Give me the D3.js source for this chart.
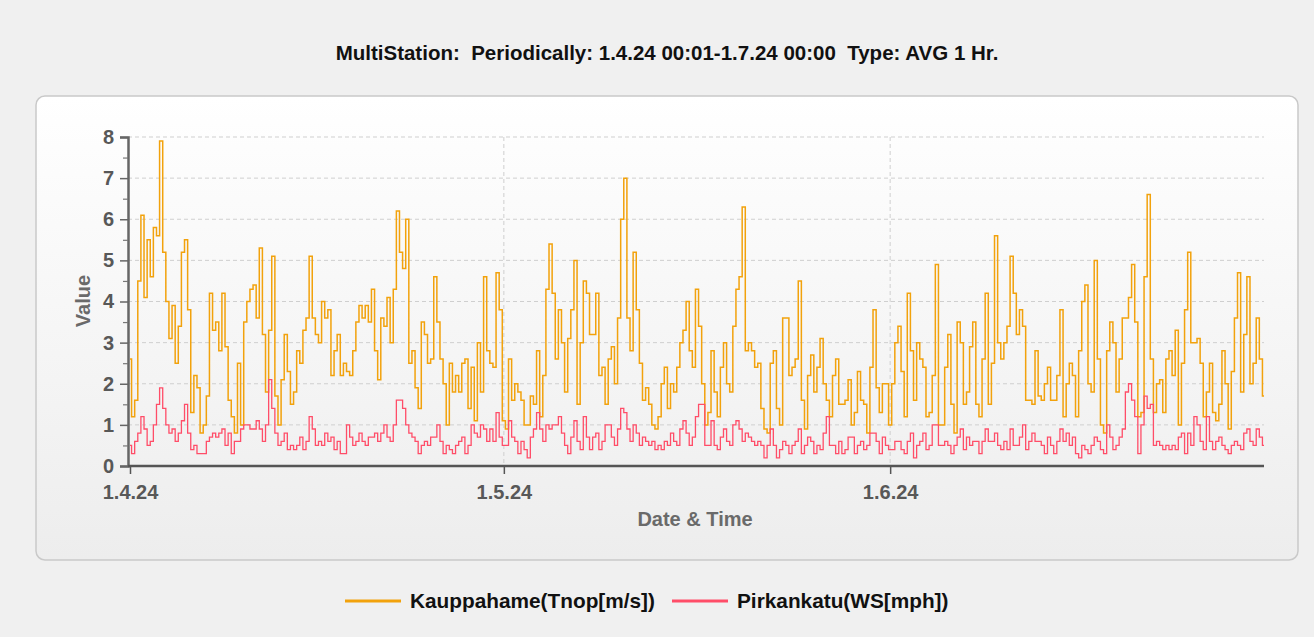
<!DOCTYPE html>
<html>
<head>
<meta charset="utf-8">
<script src="https://cdn.jsdelivr.net/npm/d3@7"></script>
<style>
  html, body { margin: 0; padding: 0; background: #f0f0f0; }
  svg { display: block; font-family: "Liberation Sans", Arial, sans-serif; }
</style>
</head>
<body>
<svg id="chart" width="1314" height="637"></svg>
<script>
// hourly averages, every 6 hours from 1.4.24 00:00
const startDate = Date.UTC(2024, 3, 1);
const stepHours = 6;

const kauppahame = [
  2.6, 1.2, 1.6, 4.5,  6.1, 4.1, 5.5, 4.6,  5.8, 5.6, 7.9, 5.2,  4.0, 3.1, 3.9, 2.5,
  3.4, 5.2, 5.5, 3.8,  1.3, 2.2, 1.9, 0.8,  1.0, 1.7, 4.2, 3.3,  3.5, 2.8, 4.2, 2.9,
  1.6, 1.2, 0.8, 2.5,  1.0, 3.5, 4.0, 4.3,  4.4, 3.6, 5.3, 3.2,  1.8, 3.3, 5.1, 1.7,
  1.0, 2.1, 3.2, 2.3,  1.5, 1.8, 2.8, 2.5,  3.3, 3.6, 5.1, 3.6,  3.2, 3.0, 4.0, 3.6,
  3.8, 2.2, 2.8, 3.2,  2.2, 2.5, 2.3, 2.2,  2.8, 3.5, 3.9, 3.6,  3.9, 3.5, 4.3, 2.8,
  2.1, 3.6, 3.4, 4.1,  3.0, 4.3, 6.2, 5.2,  4.8, 6.0, 2.5, 2.8,  1.9, 1.4, 3.5, 3.2,
  2.5, 2.6, 4.6, 3.5,  2.6, 2.0, 1.0, 2.5,  1.8, 2.2, 1.8, 2.5,  2.6, 1.4, 2.4, 1.1,
  3.0, 1.8, 4.6, 2.8,  2.5, 2.4, 4.7, 3.8,  1.1, 0.9, 2.6, 1.6,  2.0, 1.8, 1.6, 1.0,
  1.0, 1.7, 1.5, 2.8,  1.2, 2.2, 4.3, 5.4,  4.2, 2.6, 3.8, 3.0,  1.8, 3.1, 3.8, 5.0,
  1.5, 3.0, 4.5, 4.2,  3.2, 3.2, 4.2, 2.2,  2.4, 1.5, 2.6, 2.9,  2.0, 3.6, 6.0, 7.0,
  3.6, 2.8, 5.2, 3.8,  2.5, 1.6, 1.9, 1.5,  1.0, 0.9, 1.2, 2.0,  2.4, 1.4, 2.0, 1.8,
  2.4, 3.0, 3.3, 4.0,  2.8, 2.4, 4.3, 3.4,  2.0, 1.0, 1.3, 2.8,  1.8, 1.2, 2.4, 3.0,
  2.0, 1.8, 3.4, 4.3,  4.6, 6.3, 2.8, 3.0,  2.8, 2.4, 2.5, 1.4,  0.9, 0.8, 2.5, 2.8,
  1.4, 1.0, 3.6, 3.6,  2.2, 2.4, 2.6, 4.5,  1.6, 0.9, 2.2, 2.7,  1.8, 2.4, 3.1, 2.0,
  1.6, 1.2, 2.2, 2.6,  1.5, 1.5, 1.6, 2.1,  1.0, 1.3, 2.3, 1.6,  1.5, 0.8, 2.4, 3.8,
  1.9, 1.3, 2.0, 2.0,  1.0, 2.0, 3.0, 3.4,  2.3, 1.2, 4.2, 2.8,  1.6, 3.0, 2.6, 2.4,
  1.2, 1.3, 2.2, 4.9,  1.0, 1.0, 2.4, 3.2,  1.5, 0.8, 3.5, 3.0,  1.5, 1.8, 2.9, 3.5,
  1.5, 1.2, 2.6, 4.2,  1.5, 2.5, 5.6, 3.0,  2.6, 3.0, 3.4, 5.1,  4.2, 3.2, 3.8, 3.4,
  1.6, 1.6, 1.5, 2.8,  1.7, 1.6, 2.0, 2.4,  1.6, 1.6, 2.2, 3.8,  1.2, 2.0, 2.5, 2.2,
  1.2, 2.8, 4.0, 4.4,  2.0, 1.8, 5.0, 2.6,  1.0, 0.8, 2.8, 3.5,  3.0, 1.8, 2.6, 3.6,
  3.6, 4.1, 4.9, 3.5,  1.2, 1.3, 4.6, 6.6,  2.6, 1.3, 2.0, 2.1,  1.3, 2.6, 2.8, 2.2,
  3.3, 1.0, 2.5, 3.8,  5.2, 3.0, 3.0, 3.1,  2.5, 1.2, 1.8, 2.5,  1.3, 1.1, 1.5, 2.8,
  2.0, 0.9, 2.3, 3.6,  4.7, 1.8, 3.2, 4.6,  2.0, 2.5, 3.6, 2.6,  1.7
];

const pirkankatu = [
  0.5, 0.3, 0.6, 0.8,  1.2, 0.9, 0.5, 0.6,  1.0, 1.5, 1.9, 1.4,  1.0, 0.8, 0.9, 0.6,
  0.8, 1.1, 1.5, 0.8,  0.4, 0.5, 0.3, 0.3,  0.3, 0.6, 0.7, 0.8,  0.7, 0.8, 0.9, 0.5,
  0.8, 0.3, 0.6, 0.6,  0.9, 1.0, 1.0, 0.9,  0.9, 1.1, 0.9, 0.6,  1.0, 2.1, 1.4, 0.8,
  0.5, 0.6, 0.8, 0.4,  0.5, 0.4, 0.5, 0.7,  0.4, 0.6, 1.2, 0.9,  0.5, 0.6, 0.5, 0.8,
  0.6, 0.7, 0.4, 0.6,  0.3, 0.3, 1.0, 0.7,  0.5, 0.6, 0.8, 0.6,  0.5, 0.7, 0.7, 0.8,
  0.6, 0.8, 1.0, 0.7,  0.6, 1.0, 1.6, 1.6,  1.4, 1.0, 0.8, 0.7,  0.6, 0.3, 0.5, 0.6,
  0.5, 0.7, 0.7, 1.0,  0.6, 0.3, 0.5, 0.4,  0.3, 0.5, 0.6, 0.7,  0.3, 0.5, 1.0, 0.8,
  0.7, 1.0, 0.9, 0.6,  0.9, 0.6, 1.3, 0.7,  0.5, 0.5, 1.1, 0.7,  0.6, 0.3, 0.6, 0.4,
  0.2, 0.7, 0.9, 1.3,  0.9, 0.6, 1.0, 0.9,  1.0, 1.0, 1.2, 0.8,  0.5, 0.3, 0.7, 1.1,
  0.6, 0.4, 1.2, 0.7,  0.4, 0.7, 0.8, 0.4,  0.6, 1.0, 1.0, 0.7,  0.5, 0.9, 1.4, 1.3,
  0.9, 0.6, 1.0, 0.8,  0.5, 0.7, 0.6, 0.5,  0.6, 0.4, 0.5, 0.4,  0.6, 0.5, 0.8, 0.6,
  0.5, 0.9, 1.1, 0.8,  0.5, 0.7, 1.2, 1.5,  1.5, 0.5, 0.5, 1.1,  0.5, 0.4, 0.7, 0.9,
  0.6, 0.5, 1.0, 1.1,  0.9, 0.6, 0.8, 0.7,  0.6, 0.5, 0.6, 0.5,  0.2, 0.5, 0.9, 0.5,
  0.2, 0.4, 0.6, 0.5,  0.3, 0.5, 0.6, 0.9,  0.3, 0.5, 0.7, 0.6,  0.3, 0.5, 0.4, 0.8,
  1.2, 0.5, 0.5, 0.3,  0.6, 0.3, 0.4, 0.7,  0.7, 0.3, 0.5, 0.6,  0.4, 0.5, 0.8, 0.8,
  0.6, 0.3, 0.7, 0.5,  0.4, 0.4, 0.6, 0.6,  0.4, 0.3, 0.6, 0.8,  0.2, 0.5, 0.6, 0.8,
  0.4, 0.5, 1.0, 1.0,  0.5, 0.5, 0.6, 0.5,  0.3, 0.5, 0.7, 0.9,  0.4, 0.7, 0.5, 0.6,
  0.6, 0.3, 0.6, 0.9,  0.6, 0.6, 0.8, 0.5,  0.4, 0.6, 0.4, 0.9,  0.5, 0.5, 0.7, 1.0,
  0.4, 0.6, 0.8, 0.6,  0.6, 0.5, 0.3, 0.7,  0.5, 0.3, 0.6, 0.9,  0.6, 0.8, 0.5, 0.7,
  0.3, 0.2, 0.5, 0.4,  0.3, 0.5, 0.7, 0.6,  0.4, 0.3, 1.0, 0.7,  0.4, 0.5, 0.7, 0.9,
  1.8, 2.0, 1.6, 1.2,  0.3, 1.0, 1.7, 1.4,  1.5, 0.5, 0.6, 0.5,  0.4, 0.5, 0.4, 0.5,
  0.4, 0.7, 0.8, 0.3,  0.8, 0.5, 1.2, 1.0,  0.6, 0.4, 1.2, 0.6,  0.4, 0.6, 0.7, 0.5,
  0.4, 0.3, 0.5, 0.6,  0.5, 0.4, 0.8, 0.9,  0.6, 0.5, 0.9, 0.7,  0.5
];

const seriesNames = ["Kauppahame(Tnop[m/s])", "Pirkankatu(WS[mph])"];
const seriesColors = ["#f2a20c", "#ff4d68"];
const xTickDates = [Date.UTC(2024, 3, 1), Date.UTC(2024, 4, 1), Date.UTC(2024, 5, 1)];
const xTickLabels = ["1.4.24", "1.5.24", "1.6.24"];
const yTicks = [0, 1, 2, 3, 4, 5, 6, 7, 8];
const endDate = Date.UTC(2024, 6, 1);

const title = "MultiStation:  Periodically: 1.4.24 00:01-1.7.24 00:00  Type: AVG 1 Hr.";

const svg = d3.select("#chart");
const plot = { left: 128, x0: 130, right: 1264, top: 137, bottom: 466 };

const x = d3.scaleUtc().domain([startDate, endDate]).range([plot.x0, plot.right]);
const y = d3.scaleLinear().domain([0, 8]).range([plot.bottom, plot.top]);

const defs = svg.append("defs");
const grad = defs.append("linearGradient")
  .attr("id", "panelGrad").attr("x1", 0).attr("y1", 0).attr("x2", 0).attr("y2", 1);
grad.append("stop").attr("offset", "0%").attr("stop-color", "#ffffff");
grad.append("stop").attr("offset", "100%").attr("stop-color", "#ededed");

// title
svg.append("text")
  .attr("x", 667).attr("y", 60)
  .attr("text-anchor", "middle")
  .attr("font-size", 20.5).attr("font-weight", "bold").attr("fill", "#111")
  .style("white-space", "pre")
  .text(title);

// panel
svg.append("rect")
  .attr("x", 36).attr("y", 96).attr("width", 1262).attr("height", 464)
  .attr("rx", 9)
  .attr("fill", "url(#panelGrad)")
  .attr("stroke", "#c9c9c9").attr("stroke-width", 1.5);

// grid
svg.append("g").selectAll("line")
  .data(yTicks.slice(1))
  .join("line")
  .attr("x1", plot.left).attr("x2", plot.right)
  .attr("y1", d => y(d)).attr("y2", d => y(d))
  .attr("stroke", "#cfcfcf").attr("stroke-dasharray", "4,3");

svg.append("g").selectAll("line")
  .data(xTickDates.slice(1))
  .join("line")
  .attr("x1", d => x(d)).attr("x2", d => x(d))
  .attr("y1", plot.top).attr("y2", plot.bottom)
  .attr("stroke", "#cfcfcf").attr("stroke-dasharray", "4,3");

// series
const series = [kauppahame, pirkankatu];
const line = d3.line()
  .curve(d3.curveStep)
  .x((d, i) => x(startDate + i * stepHours * 3600e3))
  .y(d => y(d));

svg.append("g").selectAll("path")
  .data(series)
  .join("path")
  .attr("d", line)
  .attr("fill", "none")
  .attr("stroke", (d, i) => seriesColors[i])
  .attr("stroke-width", (d, i) => i === 0 ? 1.5 : 1.3);

// y axis
const yAxis = svg.append("g")
  .attr("transform", `translate(${plot.left},0)`)
  .call(d3.axisLeft(y).tickValues(yTicks).tickSize(8).tickPadding(6).tickFormat(d3.format("d")));
yAxis.select(".domain").attr("stroke", "#666").attr("stroke-width", 2.5);
yAxis.selectAll(".tick line").attr("stroke", "#666").attr("stroke-width", 1.5);
yAxis.selectAll(".tick text")
  .attr("font-size", 20).attr("font-weight", "bold").attr("fill", "#585858")
  .attr("font-family", "Liberation Sans, Arial, sans-serif");

const yMinor = svg.append("g")
  .attr("transform", `translate(${plot.left},0)`)
  .call(d3.axisLeft(y).tickValues(d3.range(0.5, 8, 1)).tickSize(5).tickFormat(""));
yMinor.select(".domain").remove();
yMinor.selectAll(".tick line").attr("stroke", "#777").attr("stroke-width", 1.2);

// x axis
const xAxis = svg.append("g")
  .attr("transform", `translate(0,${plot.bottom})`)
  .call(d3.axisBottom(x).tickValues(xTickDates).tickSize(8).tickPadding(11)
    .tickFormat((d, i) => xTickLabels[i]));
xAxis.select(".domain")
  .attr("d", `M${plot.left},0H${plot.right}`)
  .attr("stroke", "#555").attr("stroke-width", 2.5);
xAxis.selectAll(".tick line").attr("stroke", "#555").attr("stroke-width", 1.5);
xAxis.selectAll(".tick text")
  .attr("font-size", 20).attr("font-weight", "bold").attr("fill", "#585858")
  .attr("font-family", "Liberation Sans, Arial, sans-serif");

// axis titles
svg.append("text")
  .attr("x", 695).attr("y", 526)
  .attr("text-anchor", "middle")
  .attr("font-size", 20).attr("font-weight", "bold").attr("fill", "#6a6a6a")
  .text("Date & Time");

svg.append("text")
  .attr("transform", "translate(90,301) rotate(-90)")
  .attr("text-anchor", "middle")
  .attr("font-size", 20).attr("font-weight", "bold").attr("fill", "#6a6a6a")
  .text("Value");

// legend
const legendX = [345, 672];
const legend = svg.append("g").selectAll("g")
  .data(seriesNames)
  .join("g")
  .attr("transform", (d, i) => `translate(${legendX[i]},601)`);
legend.append("line")
  .attr("x1", 0).attr("x2", 56)
  .attr("stroke", (d, i) => seriesColors[i]).attr("stroke-width", 3);
legend.append("text")
  .attr("x", 65).attr("y", 7)
  .attr("font-size", 20.8).attr("font-weight", "bold").attr("fill", "#111")
  .text(d => d);
</script>
</body>
</html>
